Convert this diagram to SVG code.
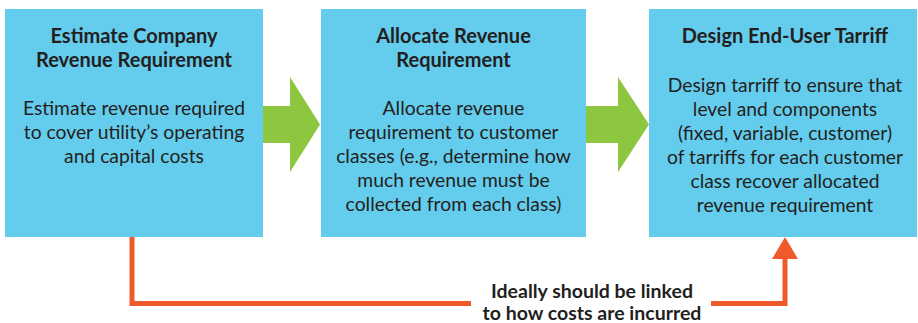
<svg xmlns="http://www.w3.org/2000/svg" width="918" height="323" viewBox="0 0 918 323">
<style>
.box{fill:#64CCED;}
.t{font-family:Lato,"Open Sans","Liberation Sans",sans-serif;fill:#231F20;text-anchor:middle;}
.h{font-size:20px;font-weight:bold;}
.b{font-size:19.3px;}
.lab{font-size:19.5px;font-weight:bold;}
.arrow{fill:#8DC63F;}
.link{fill:none;stroke:#EF5A2B;stroke-width:5;}
</style>
<rect width="918" height="323" fill="#FFFFFF"/>
<g id="connectors">
<polygon class="arrow" points="263,106 290,106 290,77 320,124.5 290,172 290,143 263,143"/>
<polygon class="arrow" points="586,106 618,106 618,77 649,124.5 618,172 618,143 586,143"/>
<polyline class="link" points="132,237 132,303.5 471,303.5"/>
<polyline class="link" points="711,303.5 785,303.5 785,256"/>
<polygon fill="#EF5A2B" points="785,237 798,259 772,259"/>
<text class="t lab" x="592" y="298">Ideally should be linked</text>
<text class="t lab" x="592" y="320">to how costs are incurred</text>
</g>
<g id="node-estimate">
<rect class="box" x="5" y="9" width="258" height="228"/>
<text class="t h" x="134" y="43">Estimate Company</text>
<text class="t h" x="134" y="67">Revenue Requirement</text>
<text class="t b" x="134" y="115">Estimate revenue required</text>
<text class="t b" x="134" y="139">to cover utility’s operating</text>
<text class="t b" x="134" y="163">and capital costs</text>
</g>
<g id="node-allocate">
<rect class="box" x="321" y="9" width="265" height="228"/>
<text class="t h" x="453.5" y="43">Allocate Revenue</text>
<text class="t h" x="453.5" y="67">Requirement</text>
<text class="t b" x="453.5" y="115">Allocate revenue</text>
<text class="t b" x="453.5" y="139">requirement to customer</text>
<text class="t b" x="453.5" y="163">classes (e.g., determine how</text>
<text class="t b" x="453.5" y="187">much revenue must be</text>
<text class="t b" x="453.5" y="211">collected from each class)</text>
</g>
<g id="node-design">
<rect class="box" x="649" y="9" width="268" height="228"/>
<text class="t h" x="785" y="43">Design End-User Tarriff</text>
<text class="t b" x="785" y="92">Design tarriff to ensure that</text>
<text class="t b" x="785" y="116">level and components</text>
<text class="t b" x="785" y="140">(fixed, variable, customer)</text>
<text class="t b" x="785" y="164">of tarriffs for each customer</text>
<text class="t b" x="785" y="188">class recover allocated</text>
<text class="t b" x="785" y="212">revenue requirement</text>
</g>
</svg>
